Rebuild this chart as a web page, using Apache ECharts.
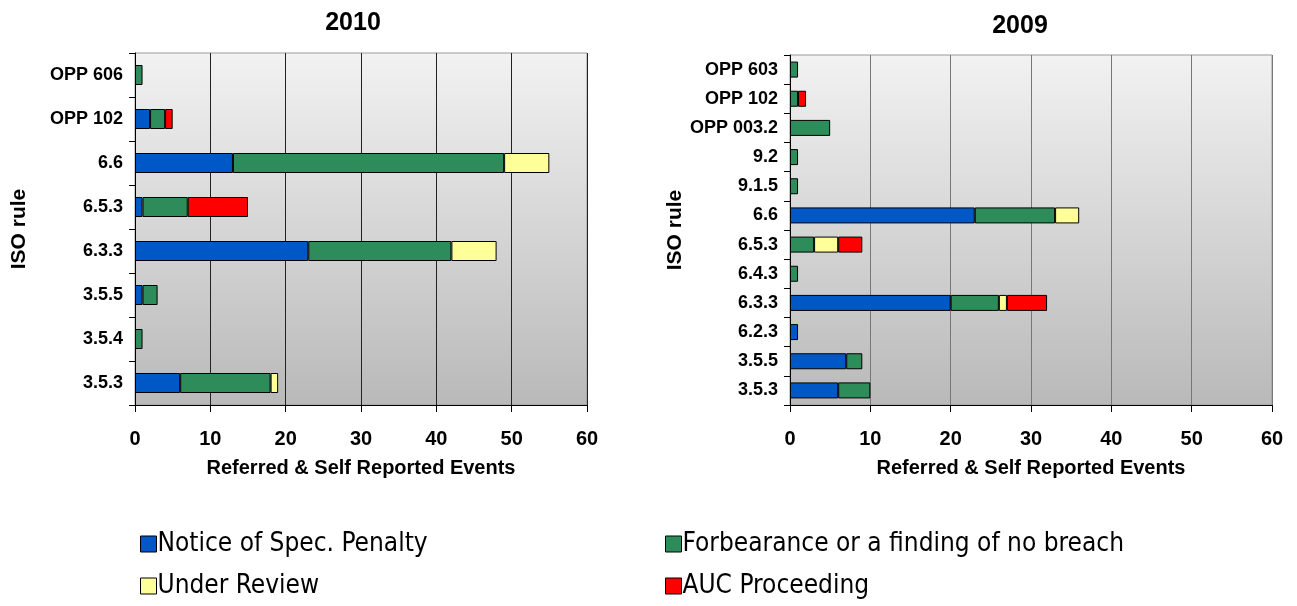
<!DOCTYPE html>
<html>
<head>
<meta charset="utf-8">
<script src="https://cdn.jsdelivr.net/npm/echarts@6/dist/echarts.min.js"></script>
<style>
html, body { margin: 0; padding: 0; background: #fff; }
#main { width: 1297px; height: 606px; }
</style>
</head>
<body>
<div id="main"></div>
<script>
// categories listed bottom to top, as ECharts draws them
var cats2010 = ['3.5.3', '3.5.4', '3.5.5', '6.3.3', '6.5.3', '6.6', 'OPP 102', 'OPP 606'];
var notice2010 = [6, 0, 1, 23, 1, 13, 2, 0];
var forb2010 = [12, 1, 2, 19, 6, 36, 2, 1];
var review2010 = [1, 0, 0, 6, 0, 6, 0, 0];
var auc2010 = [0, 0, 0, 0, 8, 0, 1, 0];

var cats2009 = ['3.5.3', '3.5.5', '6.2.3', '6.3.3', '6.4.3', '6.5.3', '6.6', '9.1.5', '9.2', 'OPP 003.2', 'OPP 102', 'OPP 603'];
var notice2009 = [6, 7, 1, 20, 0, 0, 23, 0, 0, 0, 0, 0];
var forb2009 = [4, 2, 0, 6, 1, 3, 10, 1, 1, 5, 1, 1];
var review2009 = [0, 0, 0, 1, 0, 3, 3, 0, 0, 0, 0, 0];
var auc2009 = [0, 0, 0, 5, 0, 3, 0, 0, 0, 0, 1, 0];

var xTicks = [0, 10, 20, 30, 40, 50, 60];

var NAMES = {
    NOTICE: 'Notice of Spec. Penalty',
    FORB: 'Forbearance or a finding of no breach',
    REVIEW: 'Under Review',
    AUC: 'AUC Proceeding'
};
var COLORS = {
    NOTICE: '#0058c6',
    FORB: '#2e8b5a',
    REVIEW: '#ffff99',
    AUC: '#ff0000'
};

var FONT = 'Liberation Sans';

function blank(arr)
{
    return arr.map(function (v) { return v === 0 ? null : v; });
}

function plotBg()
{
    return new echarts.graphic.LinearGradient(0, 0, 0, 1, [
        { offset: 0, color: '#f2f2f2' },
        { offset: 1, color: '#b9b9b9' }
    ]);
}

function xAxisFor(idx, splitColor)
{
    return {
        type: 'value', gridIndex: idx, min: xTicks[0], max: xTicks[xTicks.length - 1],
        interval: 10,
        name: 'Referred & Self Reported Events', nameLocation: 'middle', nameGap: 53,
        nameTextStyle: { fontFamily: FONT, fontWeight: 'bold', fontSize: 20, color: '#000' },
        axisLine: { show: true, lineStyle: { color: '#000', width: 1 } },
        axisTick: { show: true, length: 7, lineStyle: { color: '#000' } },
        axisLabel: { fontFamily: FONT, fontWeight: 'bold', fontSize: 20, color: '#000', margin: 24 },
        splitLine: { show: true, lineStyle: { color: splitColor, width: 1 } }
    };
}

function yAxisFor(idx, cats, gap)
{
    return {
        type: 'category', gridIndex: idx, data: cats,
        name: 'ISO rule', nameLocation: 'middle', nameGap: gap, nameRotate: 90,
        nameTextStyle: { fontFamily: FONT, fontWeight: 'bold', fontSize: 21, color: '#000' },
        axisLine: { show: true, lineStyle: { color: '#000', width: 1 } },
        axisTick: { show: true, length: 6, alignWithLabel: false, lineStyle: { color: '#000' } },
        axisLabel: { fontFamily: FONT, fontWeight: 'bold', fontSize: 18, color: '#000', margin: 12 },
        splitLine: { show: false }
    };
}

function barSeries(name, color, data, idx, barWidth)
{
    return {
        name: name, type: 'bar', stack: 'total' + idx,
        xAxisIndex: idx, yAxisIndex: idx,
        barWidth: barWidth,
        itemStyle: { color: color, borderColor: '#000', borderWidth: 1 },
        data: blank(data)
    };
}

function legendFor(names, left)
{
    return {
        data: names, orient: 'vertical', left: left, top: 531, height: 75, padding: 0,
        itemWidth: 16, itemHeight: 16, itemGap: 16, icon: 'rect', selectedMode: false,
        itemStyle: { borderColor: '#000', borderWidth: 1 },
        textStyle: { fontFamily: 'DejaVu Sans Condensed', fontSize: 26, color: '#000', padding: [0, 0, 0, -4] }
    };
}

var chart = echarts.init(document.getElementById('main'));
var option = {
    animation: false,
    backgroundColor: '#fff',
    title: [
        { text: '2010', left: 348, top: 6, textAlign: 'center',
          textStyle: { fontFamily: FONT, fontWeight: 'bold', fontSize: 25, color: '#000' } },
        { text: '2009', left: 1015, top: 9, textAlign: 'center',
          textStyle: { fontFamily: FONT, fontWeight: 'bold', fontSize: 25, color: '#000' } }
    ],
    grid: [
        { left: 135, right: 710, top: 53, bottom: 201, show: true,
          backgroundColor: plotBg(), borderColor: '#999', borderWidth: 1 },
        { left: 790, right: 25, top: 55, bottom: 201, show: true,
          backgroundColor: plotBg(), borderColor: '#999', borderWidth: 1 }
    ],
    xAxis: [xAxisFor(0, '#222'), xAxisFor(1, '#777')],
    yAxis: [yAxisFor(0, cats2010, 105), yAxisFor(1, cats2009, 94)],
    legend: [
        legendFor([NAMES.NOTICE, NAMES.REVIEW], 140),
        legendFor([NAMES.FORB, NAMES.AUC], 665)
    ],
    series: [
        barSeries(NAMES.NOTICE, COLORS.NOTICE, notice2010, 0, 20),
        barSeries(NAMES.FORB, COLORS.FORB, forb2010, 0, 20),
        barSeries(NAMES.REVIEW, COLORS.REVIEW, review2010, 0, 20),
        barSeries(NAMES.AUC, COLORS.AUC, auc2010, 0, 20),
        barSeries(NAMES.NOTICE, COLORS.NOTICE, notice2009, 1, 16),
        barSeries(NAMES.FORB, COLORS.FORB, forb2009, 1, 16),
        barSeries(NAMES.REVIEW, COLORS.REVIEW, review2009, 1, 16),
        barSeries(NAMES.AUC, COLORS.AUC, auc2009, 1, 16)
    ]
};
chart.setOption(option);
</script>
</body>
</html>
